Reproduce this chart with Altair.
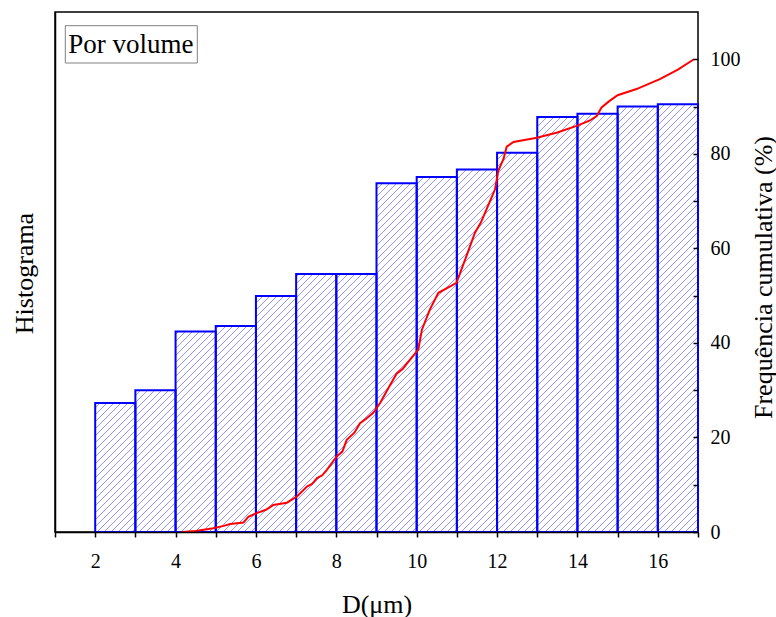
import altair as alt
import pandas as pd
import numpy as np

# ---- data ----
bin_left = [2, 3, 4, 5, 6, 7, 8, 9, 10, 11, 12, 13, 14, 15, 16]
bin_height = [27.3, 30.0, 42.4, 43.6, 49.9, 54.6, 54.6, 73.8, 75.1, 76.7, 80.2, 87.8, 88.5, 90.0, 90.5]

cum_d = [4.16, 4.5, 4.94, 5.2, 5.36, 5.69, 5.81, 6.02, 6.25, 6.43, 6.77, 7.02, 7.27, 7.4, 7.52,
         7.65, 7.76, 8.01, 8.15, 8.26, 8.45, 8.59, 8.75, 8.92, 9.09, 9.3, 9.5, 9.65, 9.84, 10.04,
         10.13, 10.33, 10.54, 10.8, 10.99, 11.24, 11.45, 11.6, 11.74, 11.95, 12.03, 12.16, 12.24,
         12.41, 12.99, 13.5, 13.98, 14.3, 14.48, 14.6, 14.8, 15.0, 15.47, 16.05, 16.5, 16.9]
cum_pct = [0.0, 0.2, 0.8, 1.3, 1.7, 2.0, 3.2, 4.0, 4.7, 5.7, 6.2, 7.5, 9.6, 10.2, 11.4,
           12.0, 13.1, 16.0, 17.0, 19.5, 21.0, 23.0, 24.0, 25.2, 27.3, 30.5, 33.5, 34.5, 36.5, 38.6,
           42.8, 47.1, 50.6, 51.8, 52.7, 58.4, 63.3, 65.5, 68.3, 72.5, 76.4, 78.9, 81.5,
           82.5, 83.4, 84.5, 85.9, 87.0, 88.0, 89.8, 91.2, 92.4, 93.7, 95.8, 97.8, 100.0]

x_ticks = list(range(1, 18))
y_ticks = list(range(0, 101, 10))
annotation = ["Por volume"]

# ---- layout ----
W, H = 643, 520
X_DOM = [1, 17]
Y_DOM = [0, 110]
FONT = "Liberation Serif"

bars = pd.DataFrame({"left": bin_left, "right": [b + 1 for b in bin_left], "h": bin_height})
cum = pd.DataFrame({"d": cum_d, "p": cum_pct})

# hatch segments (45 degree lines) clipped to each bar, derived from the bar data
xs = W / (X_DOM[1] - X_DOM[0])
ys = H / (Y_DOM[1] - Y_DOM[0])
SP = 7.0
rows = []
for l, h in zip(bin_left, bin_height):
    x0 = (l - X_DOM[0]) * xs
    x1 = x0 + xs
    hp = h * ys
    c = np.floor((x0 - hp) / SP) * SP
    while c < x1:
        xa = max(x0, c)
        xb = min(x1, c + hp)
        if xb > xa + 0.3:
            rows.append(dict(x=X_DOM[0] + xa / xs, y=(xa - c) / ys,
                             x2=X_DOM[0] + xb / xs, y2=(xb - c) / ys))
        c += SP
hatch_df = pd.DataFrame(rows)

x_scale = alt.Scale(domain=X_DOM, nice=False, zero=False)
y_scale_l = alt.Scale(domain=Y_DOM, nice=False, zero=True)
y_scale_r = alt.Scale(domain=Y_DOM, nice=False, zero=True)

x_axis = alt.Axis(
    title="D(\u03bcm)", values=x_ticks,
    labelExpr="datum.value % 2 == 0 ? datum.label : ''",
    grid=False, domain=True, domainColor="black", domainWidth=1.5,
    ticks=True, tickSize=5, tickWidth=1.5, tickColor="black",
    labelPadding=14, labelFontSize=20, labelFont=FONT, labelColor="black",
    labelOverlap=False, labelFlush=False,
    titleFont=FONT, titleFontSize=26, titleFontWeight="normal", titleColor="black",
    titleBaseline="alphabetic", titleY=80, zindex=1,
)
left_axis = alt.Axis(
    orient="left", title="Histograma", labels=False, ticks=False, grid=False,
    domain=True, domainColor="black", domainWidth=1.5,
    titleFont=FONT, titleFontSize=26, titleFontWeight="normal", titleColor="black",
    titleAngle=270, titleBaseline="alphabetic", titleX=-23, titleY=261, zindex=1,
)
right_axis = alt.Axis(
    orient="right", title="Frequ\u00eancia cumulativa (%)", values=y_ticks,
    labelExpr="datum.value % 20 == 0 ? datum.label : ''",
    offset=-5, domain=False, grid=False,
    ticks=True, tickSize=5, tickWidth=1.5, tickColor="black",
    labelPadding=12, labelFontSize=20, labelFont=FONT, labelColor="black",
    labelOverlap=False, labelFlush=False,
    titleFont=FONT, titleFontSize=26, titleFontWeight="normal", titleColor="black",
    titleAngle=270, titleBaseline="alphabetic", titleX=78, titleY=265, zindex=1,
)

hatch = alt.Chart(hatch_df).mark_rule(color="#7a7aff", strokeWidth=0.8, opacity=1).encode(
    x=alt.X("x:Q", scale=x_scale, axis=x_axis),
    x2="x2:Q",
    y=alt.Y("y:Q", scale=y_scale_l, axis=left_axis),
    y2="y2:Q",
)

outline = alt.Chart(bars).mark_rect(fillOpacity=0, stroke="#0000ff", strokeWidth=2).encode(
    x=alt.X("left:Q", scale=x_scale, axis=x_axis),
    x2="right:Q",
    y=alt.Y("h:Q", scale=y_scale_l, axis=left_axis),
    y2=alt.datum(0),
)

hist = alt.layer(hatch, outline)

line = alt.Chart(cum).mark_line(color="#ff0000", strokeWidth=2).encode(
    x=alt.X("d:Q", scale=x_scale, axis=x_axis),
    y=alt.Y("p:Q", scale=y_scale_r, axis=right_axis),
)

ann_df = pd.DataFrame({"t": annotation})
box = alt.Chart(ann_df).mark_rect(fill="white", stroke="#808080", strokeWidth=1).encode(
    x=alt.value(10.3), x2=alt.value(142.3), y=alt.value(13.7), y2=alt.value(51),
)
label = alt.Chart(ann_df).mark_text(
    align="left", baseline="alphabetic", font=FONT, fontSize=27, color="black"
).encode(x=alt.value(13.3), y=alt.value(41.3), text="t:N")

chart = alt.layer(hist, line, box, label).resolve_scale(y="independent").properties(
    width=W, height=H,
    autosize=alt.AutoSizeParams(type="none"),
    padding={"left": 55, "top": 12, "right": 78, "bottom": 85},
    background="white",
).configure_view(stroke="black", strokeWidth=1.5)

chart.save("out.html", embed_options={"renderer": "svg", "actions": False})
